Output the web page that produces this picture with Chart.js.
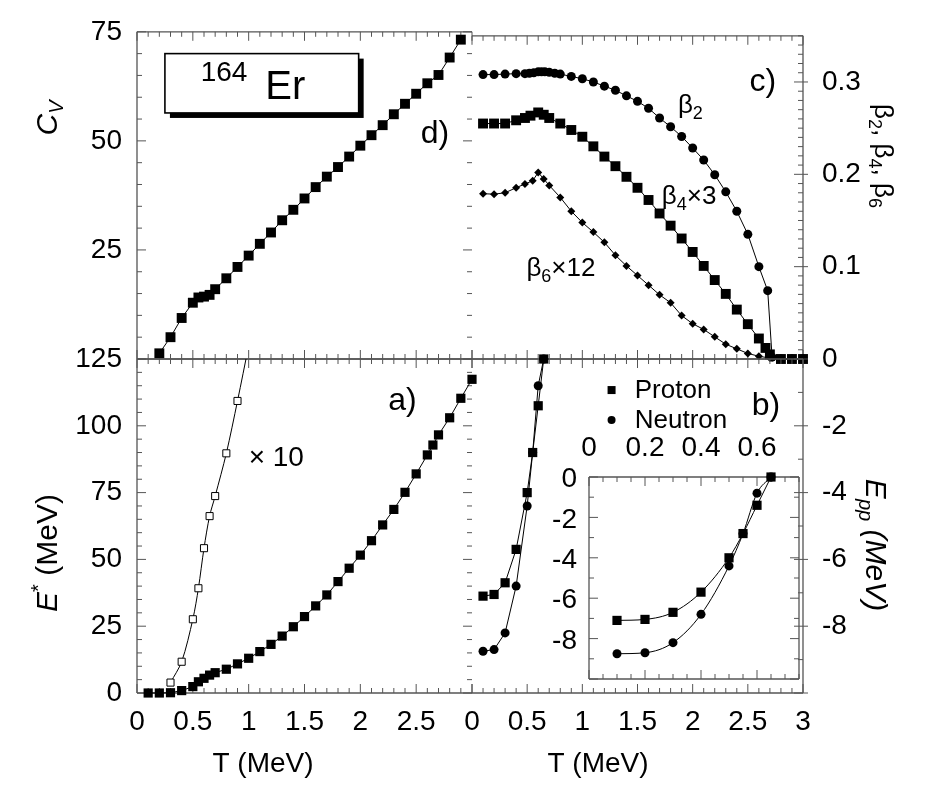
<!DOCTYPE html>
<html>
<head>
<meta charset="utf-8">
<title>164Er</title>
<script src="https://cdn.jsdelivr.net/npm/chart.js@4.4.1/dist/chart.umd.min.js"></script>
<style>
  body { margin:0; background:#fff; }
  #fig { position:relative; width:945px; height:787px; }
  #fig canvas { position:absolute; left:0; top:0; }
</style>
</head>
<body>
<div id="fig">
  <canvas id="panelD" width="945" height="787"></canvas>
  <canvas id="panelC" width="945" height="787"></canvas>
  <canvas id="panelA" width="945" height="787"></canvas>
  <canvas id="panelB" width="945" height="787"></canvas>
  <canvas id="inset" width="945" height="787"></canvas>
</div>
<script>
// d) heat capacity
const tCv  = [0.2,0.3,0.4,0.5,0.55,0.6,0.65,0.7,0.8,0.9,1.0,1.1,1.2,1.3,1.4,1.5,1.6,1.7,1.8,1.9,2.0,2.1,2.2,2.3,2.4,2.5,2.6,2.7,2.8,2.9];
const cvVals = [1.3,5.0,9.4,12.9,14.1,14.3,14.7,16.0,18.5,21.1,23.7,26.4,29.0,31.8,34.2,36.8,39.4,41.8,44.0,46.4,48.9,51.3,53.6,56.1,58.5,60.8,63.2,65.1,69.1,73.2];

// c) deformations
const tB2 = [0.1,0.2,0.3,0.4,0.48,0.52,0.56,0.6,0.63,0.66,0.7,0.75,0.8,0.9,1.0,1.1,1.2,1.3,1.4,1.5,1.6,1.7,1.8,1.9,2.0,2.1,2.2,2.3,2.4,2.5,2.6,2.68,2.72,2.8,2.9,3.0];
const beta2 = [0.308,0.308,0.3085,0.309,0.309,0.3095,0.310,0.311,0.311,0.311,0.3105,0.3095,0.3085,0.306,0.3035,0.300,0.2955,0.291,0.285,0.279,0.2715,0.261,0.2515,0.241,0.2285,0.2155,0.1995,0.181,0.160,0.135,0.100,0.074,0.002,0,0,0];
const tB4 = [0.1,0.2,0.3,0.4,0.48,0.53,0.6,0.65,0.7,0.8,0.9,1.0,1.1,1.2,1.3,1.4,1.5,1.6,1.7,1.8,1.9,2.0,2.1,2.2,2.3,2.4,2.5,2.6,2.66,2.7,2.8,2.9,3.0];
const beta4x3 = [0.255,0.255,0.255,0.2585,0.261,0.2635,0.267,0.2645,0.261,0.255,0.248,0.2407,0.2303,0.2192,0.2088,0.1973,0.1854,0.1722,0.1576,0.1444,0.1305,0.1159,0.1008,0.0855,0.0705,0.0535,0.0377,0.0222,0.012,0.005,0,0,0];
const tB6 = [0.1,0.2,0.3,0.4,0.48,0.55,0.6,0.65,0.7,0.8,0.9,1.0,1.1,1.2,1.3,1.4,1.5,1.6,1.7,1.8,1.9,2.0,2.1,2.2,2.3,2.4,2.5,2.6,2.7,2.8,2.9,3.0];
const beta6x12 = [0.179,0.1785,0.180,0.1855,0.1895,0.193,0.202,0.195,0.188,0.175,0.160,0.1478,0.1374,0.1263,0.1123,0.1008,0.0904,0.080,0.0695,0.0609,0.047,0.0382,0.032,0.024,0.016,0.011,0.006,0.003,0.001,0,0,0];

// a) excitation energy
const tE = [0.1,0.2,0.3,0.4,0.5,0.55,0.6,0.65,0.7,0.8,0.9,1.0,1.1,1.2,1.3,1.4,1.5,1.6,1.7,1.8,1.9,2.0,2.1,2.2,2.3,2.4,2.5,2.6,2.65,2.7,2.8,2.9,3.0];
const eStar = [0,0,0.1,0.9,2.4,4.2,5.5,6.7,7.6,8.9,10.9,13.0,15.5,18.2,21.3,24.8,28.6,32.6,36.7,41.7,46.7,51.6,57.0,62.9,68.7,75.1,82.0,89.1,92.8,96.6,103.0,110.3,117.4];
const tE10 = [0.3,0.4,0.5,0.55,0.6,0.65,0.7,0.8,0.9,1.0];
const eStarX10 = [3.9,11.7,27.6,39.2,54.2,66.2,73.7,89.7,109.3,130];

// b) pairing energies
const tPair = [0.1,0.2,0.3,0.4,0.5,0.55,0.6,0.65];
const eppProton = [-7.1,-7.05,-6.7,-5.7,-4.0,-2.8,-1.4,0];
const eppNeutron = [-8.75,-8.7,-8.2,-6.8,-4.4,-2.8,-0.8,0];
const insetYTicks = [0, -2, -4, -6, -8];

const FAMILY = 'Liberation Sans, Arial, Helvetica, sans-serif';
const f = (size, style) => (style ? style + ' ' : '') + size + 'px ' + FAMILY;
const tickFont = {family: FAMILY, size: 28};

// figure frame
const W = 945, H = 787;
const XL = 137, XM = 472, XR = 803;
const YT = 23, YM = 359, YB = 693;

function pts(xs, ys) { return xs.map((x, i) => ({x: x, y: ys[i]})); }

const framePlugin = {
  id: 'frame',
  beforeDatasetsDraw(chart, args, o) {
    const ctx = chart.ctx, a = chart.chartArea;
    ctx.save();
    ctx.strokeStyle = '#555';
    ctx.lineWidth = 1.3;
    ctx.beginPath();
    (o.sides || []).forEach(s => {
      if (s === 'top')    { ctx.moveTo(a.left, a.top);    ctx.lineTo(a.right, a.top); }
      if (s === 'bottom') { ctx.moveTo(a.left, a.bottom); ctx.lineTo(a.right, a.bottom); }
      if (s === 'left')   { ctx.moveTo(a.left, a.top);    ctx.lineTo(a.left, a.bottom); }
      if (s === 'right')  { ctx.moveTo(a.right, a.top);   ctx.lineTo(a.right, a.bottom); }
    });
    ctx.stroke();
    ctx.lineWidth = 1;
    ctx.beginPath();
    (o.ticks || []).forEach(t => {
      const sc = chart.scales[t.scale];
      const n = Math.round((sc.max - sc.min) / t.minor);
      for (let i = 0; i <= n; i++) {
        const v = sc.min + i * t.minor;
        const q = v / t.major;
        const major = Math.abs(q - Math.round(q)) < 1e-6;
        const len = major ? 9 : 5;
        const out = major ? (t.out || 0) : 0;
        const p = sc.getPixelForValue(v);
        if (t.edge === 'top')    { ctx.moveTo(p, a.top - out);    ctx.lineTo(p, a.top + len); }
        if (t.edge === 'bottom') { ctx.moveTo(p, a.bottom + out); ctx.lineTo(p, a.bottom - len); }
        if (t.edge === 'left')   { ctx.moveTo(a.left - out, p);   ctx.lineTo(a.left + len, p); }
        if (t.edge === 'right')  { ctx.moveTo(a.right + out, p);  ctx.lineTo(a.right - len, p); }
      }
    });
    ctx.stroke();
    ctx.restore();
  }
};

function drawRich(ctx, x, y, it) {
  ctx.save();
  ctx.translate(x, y);
  if (it.rot) ctx.rotate(it.rot * Math.PI / 180);
  let w = 0;
  it.parts.forEach(p => { ctx.font = p[1]; w += ctx.measureText(p[0]).width; });
  let cx = it.align === 'center' ? -w / 2 : (it.align === 'right' ? -w : 0);
  ctx.textBaseline = 'alphabetic';
  ctx.fillStyle = '#000';
  it.parts.forEach(p => {
    ctx.font = p[1];
    ctx.fillText(p[0], cx, p[2] || 0);
    cx += ctx.measureText(p[0]).width;
  });
  ctx.restore();
}

const textPlugin = {
  id: 'texts',
  afterDatasetsDraw(chart, args, o) {
    const ctx = chart.ctx, sx = chart.scales.x, sy = chart.scales.y;
    (o.items || []).forEach(it => {
      const px = it.px !== undefined ? it.px : sx.getPixelForValue(it.x);
      const py = it.py !== undefined ? it.py : sy.getPixelForValue(it.y);
      ctx.save();
      if (it.kind === 'box') {
        const w = sx.getPixelForValue(it.x1) - px, h = sy.getPixelForValue(it.y1) - py;
        ctx.fillStyle = '#000';
        ctx.fillRect(px + it.shadow, py + it.shadow, w, h);
        ctx.fillStyle = '#fff';
        ctx.fillRect(px, py, w, h);
        ctx.strokeStyle = '#000';
        ctx.lineWidth = 1.6;
        ctx.strokeRect(px, py, w, h);
      } else if (it.kind === 'square') {
        ctx.fillStyle = '#000';
        ctx.fillRect(px - it.r, py - it.r, 2 * it.r, 2 * it.r);
      } else if (it.kind === 'dot') {
        ctx.fillStyle = '#000';
        ctx.beginPath();
        ctx.arc(px, py, it.r, 0, 2 * Math.PI);
        ctx.fill();
      } else {
        drawRich(ctx, px, py, it);
      }
      ctx.restore();
    });
  }
};

function series(data, style) {
  return Object.assign({
    data: data, showLine: true, borderColor: '#000', borderWidth: 1,
    pointBackgroundColor: '#000', pointBorderColor: '#000', pointBorderWidth: 0,
    clip: false
  }, style);
}

function hidden(min, max) { return {type: 'linear', min: min, max: max, display: false}; }

function axis(min, max, position, step, size, padding, cb) {
  const horiz = position === 'top' || position === 'bottom';
  return {
    type: 'linear', min: min, max: max, position: position,
    grid: {display: false, drawTicks: false}, border: {display: false},
    ticks: {stepSize: step, font: tickFont, color: '#000', padding: padding, includeBounds: false,
            autoSkip: false, maxRotation: 0, crossAlign: 'near', callback: cb},
    afterFit: s => { if (horiz) s.height = size; else s.width = size; }
  };
}

function makeChart(id, pad, scales, datasets, frame, items) {
  return new Chart(document.getElementById(id), {
    type: 'scatter',
    data: {datasets: datasets},
    options: {
      responsive: false, animation: false, devicePixelRatio: 1,
      layout: {padding: pad},
      scales: scales,
      plugins: {legend: {display: false}, tooltip: {enabled: false},
                frame: frame, texts: {items: items}}
    },
    plugins: [framePlugin, textPlugin]
  });
}

const xTicksTop = {scale: 'x', edge: 'top', minor: 0.1, major: 0.5};
const xTicksBottom = {scale: 'x', edge: 'bottom', minor: 0.1, major: 0.5};
const fmtT = v => (v > 2.99 ? null : String(v));

// d) C_V
makeChart('panelD',
  {left: 0, top: YT, right: W - XM, bottom: H - YM},
  {x: hidden(0, 3), y: axis(0, 75, 'left', 25, XL, 15, v => (v === 0 ? null : String(v)))},
  [series(pts(tCv, cvVals), {pointStyle: 'rect', pointRadius: 7})],
  {sides: ['top', 'left', 'bottom'],
   ticks: [xTicksTop, xTicksBottom,
           {scale: 'y', edge: 'left', minor: 5, major: 25},
           {scale: 'y', edge: 'right', minor: 5, major: 25}]},
  [
    {kind: 'box', x: 0.25, y: 70, x1: 1.985, y1: 56.4, shadow: 5},
    {x: 0.57, y: 63.8, parts: [['164', f(28)]]},
    {x: 1.149, y: 59.6, parts: [['Er', f(40)]]},
    {x: 2.54, y: 49.6, parts: [['d)', f(32)]]},
    {px: 57, py: 118, rot: -90, align: 'center', parts: [['C', f(30, 'italic')], ['V', f(20, 'italic'), 6]]}
  ]);

// c) deformation parameters
makeChart('panelC',
  {left: XM, top: YT, right: 0, bottom: H - YM},
  {x: hidden(0, 3), y: axis(0, 0.35, 'right', 0.1, W - XR, 19,
      v => (v > 0.34 ? null : (v === 0 ? '0' : v.toFixed(1))))},
  [
    series(pts(tB2, beta2), {pointStyle: 'circle', pointRadius: 4.5}),
    series(pts(tB4, beta4x3), {pointStyle: 'rect', pointRadius: 7}),
    series(pts(tB6, beta6x12), {pointStyle: 'rectRot', pointRadius: 4})
  ],
  {sides: ['top', 'right', 'bottom'],
   ticks: [xTicksTop, xTicksBottom,
           {scale: 'y', edge: 'right', minor: 0.01, major: 0.1, out: 5}]},
  [
    {x: 2.516, y: 0.29, parts: [['c)', f(32)]]},
    {x: 1.866, y: 0.2665, parts: [['β', f(26)], ['2', f(18), 6]]},
    {x: 1.72, y: 0.168, parts: [['β', f(26)], ['4', f(18), 6], ['×3', f(26)]]},
    {x: 0.493, y: 0.090, parts: [['β', f(26)], ['6', f(18), 6], ['×12', f(26)]]},
    {px: 875, py: 156, rot: 90, align: 'center',
     parts: [['β', f(26)], ['2', f(18), 6], [', β', f(26)], ['4', f(18), 6], [', β', f(26)], ['6', f(18), 6]]}
  ]);

// a) excitation energy
makeChart('panelA',
  {left: 0, top: YM, right: W - XM, bottom: 0},
  {x: axis(0, 3, 'bottom', 0.5, H - YB, 12, fmtT),
   y: axis(0, 125, 'left', 25, XL, 15, v => String(v))},
  [
    series(pts(tE10, eStarX10), {pointStyle: 'rect', pointRadius: 5, pointBackgroundColor: '#fff',
                                 pointBorderWidth: 1, tension: 0.3, clip: 0}),
    series(pts(tE, eStar), {pointStyle: 'rect', pointRadius: 6.5})
  ],
  {sides: ['left', 'top', 'bottom'],
   ticks: [xTicksTop, xTicksBottom,
           {scale: 'y', edge: 'left', minor: 5, major: 25},
           {scale: 'y', edge: 'right', minor: 5, major: 25}]},
  [
    {x: 2.25, y: 105.9, parts: [['a)', f(32)]]},
    {x: 1.0, y: 85, parts: [['× 10', f(28)]]},
    {px: 57, py: 553, rot: -90, align: 'center',
     parts: [['E', f(30, 'italic')], ['*', f(20), -12], [' (MeV)', f(30)]]},
    {px: 263, py: 772, align: 'center', parts: [['T (MeV)', f(28)]]}
  ]);

// b) pairing energy
makeChart('panelB',
  {left: XM, top: YM, right: 0, bottom: 0},
  {x: axis(0, 3, 'bottom', 0.5, H - YB, 12, v => String(v)),
   y: axis(-10, 0, 'right', 2, W - XR, 19, v => (v === 0 || v === -10 ? null : String(v)))},
  [
    series(pts(tPair, eppProton), {pointStyle: 'rect', pointRadius: 6.5}),
    series(pts(tPair, eppNeutron), {pointStyle: 'circle', pointRadius: 4.5})
  ],
  {sides: ['right', 'top', 'bottom'],
   ticks: [xTicksTop, xTicksBottom,
           {scale: 'y', edge: 'right', minor: 1, major: 2, out: 5}]},
  [
    {x: 2.535, y: -1.68, parts: [['b)', f(32)]]},
    {kind: 'square', x: 1.265, y: -0.93, r: 4},
    {x: 1.475, y: -1.17, parts: [['Proton', f(26)]]},
    {kind: 'dot', x: 1.265, y: -1.83, r: 4},
    {x: 1.475, y: -2.07, parts: [['Neutron', f(26)]]},
    {px: 866, py: 545, rot: 90, align: 'center',
     parts: [['E', f(30, 'italic')], ['pp', f(20, 'italic'), 7], [' (MeV)', f(30, 'italic')]]},
    {px: 598, py: 772, align: 'center', parts: [['T (MeV)', f(28)]]}
  ]);

// inset of b); its y tick labels sit right-aligned just left of the box
makeChart('inset',
  {left: 589, top: 437, right: W - 799, bottom: H - 679},
  {x: axis(0, 0.75, 'top', 0.2, 40, 12, v => (v === 0 ? '0' : v.toFixed(1))),
   y: hidden(-10, 0)},
  [
    series(pts(tPair, eppProton), {pointStyle: 'rect', pointRadius: 6.5, cubicInterpolationMode: 'monotone'}),
    series(pts(tPair, eppNeutron), {pointStyle: 'circle', pointRadius: 4.5, cubicInterpolationMode: 'monotone'})
  ],
  {sides: ['top', 'right', 'bottom', 'left'],
   ticks: [{scale: 'x', edge: 'top', minor: 0.05, major: 0.2},
           {scale: 'x', edge: 'bottom', minor: 0.05, major: 0.2},
           {scale: 'y', edge: 'left', minor: 1, major: 2},
           {scale: 'y', edge: 'right', minor: 1, major: 2}]},
  insetYTicks.map(v => ({px: 577, y: v - 0.5, align: 'right', parts: [[String(v), f(28)]]})));
</script>
</body>
</html>
